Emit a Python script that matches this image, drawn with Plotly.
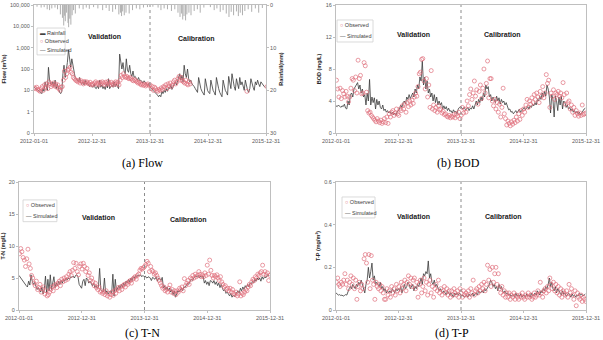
import numpy as np
import pandas as pd
import plotly.graph_objects as go

# ---------------- data ----------------
START = "2012-01-01"
X_TICKS = ["2012-01-01", "2012-12-31", "2013-12-31", "2014-12-31", "2015-12-31"]
SPLIT_DATE = "2013-12-31"
N = None

# weekly simulated flow (m3/s), starting 2012-01-01
flow_sim = [
    14, 13, 12, 11, 10, 9, 8, 7, 12, 9, 25, 15, 10, 120, 30, 20, 18, 25, 15, 30, 12, 20, 10, 8, 7, 9,
    60, 150, 40, 90, 200, 800, 250, 120, 300, 150, 60, 40, 35, 30, 25, 40, 22, 20, 25, 18, 30, 20, 22, 18, 15, 17,
    15, 14, 20, 13, 12, 16, 12, 30, 14, 18, 12, 15, 11, 20, 13, 35, 12, 15, 18, 14, 25, 15, 20, 15, 12, 500,
    150, 100, 200, 80, 60, 300, 90, 70, 150, 60, 45, 80, 40, 45, 35, 30, 40, 28, 30, 25, 22, 28, 22, 20, 18, 20,
    15, 14, 12, 10, 9, 8, 7, 6, 5, 6, 5, 9, 7, 10, 8, 12, 9, 14, 12, 18, 11, 15, 20, 25, 18, 30,
    40, 60, 30, 50, 25, 150, 60, 40, 100, 35, 25, 30, 20, 18, 15, 12, 10, 8, 40, 20, 12, 9, 7, 6, 35, 15,
    10, 8, 7, 30, 15, 10, 8, 6, 40, 20, 12, 8, 6, 5, 30, 15, 10, 8, 6, 45, 20, 12, 60, 25, 15, 10,
    35, 20, 12, 40, 18, 25, 14, 10, 30, 15, 10, 8, 12, 35, 20, 14, 10, 25, 18, 30, 20, 15, 25, 20, 18, 15, 14,
]
# weekly observed flow (offset 3 days)
flow_obs = [
    13, 12, 14, 11, 10, 9, 12, 15, 10, 18, 14, 20, 12, 25, 20, 15, 18, 22, 16, 20, 14, 18, 12, 10, 14, 15,
    30, 80, 40, 60, 90, 100, 120, 70, 60, 40, 35, 30, 28, 25, 30, 22, 28, 24, 20, 26, 22, 25, 22, 20, 24, 18,
    20, 18, 22, 25, 20, 22, 18, 24, 20, 25, 22, 18, 24, 20, 26, 22, 18, 24, 20, 18, 22, 25, 20, 24, 18, 30,
    50, 40, 60, 45, 40, 45, 38, 35, 40, 35, 30, 28, 32, 28, 25, 22, 24, 20, 18, 20, 17, 19, 16, 18, 20, 17,
    18, 12, 15, 10, 14, 12, 10, 9, 11, 10, 13, 11, 15, 14, 18, 12, 20, 16, 22, 15, 18, 25, 30, 20, 25, 35,
    45, 30, 40, 28, 25, 22, 30, 20, 18, 25, 20, N, N, N, N, N, N, N, N, N, N, N, N, N, N, N, N,
    N, N, N, N, N, N, N, N, N, N, N, N, N, N, N, N, N, N, N, N, N, N, N, N, N, N,
    N, N, N, N, N, N, N, N, 9, N, N, N, N, N, N, N, N, N, N, N, N, N, N, N, N, N, 15,
]

rain_dates = [
    "2012-01-20", "2012-02-15", "2012-03-05", "2012-03-24", "2012-04-08", "2012-04-22", "2012-05-12",
    "2012-05-28", "2012-06-15", "2012-06-28", "2012-07-06", "2012-07-12", "2012-07-16", "2012-07-24",
    "2012-08-02", "2012-08-06", "2012-08-13", "2012-08-20", "2012-08-28", "2012-09-06", "2012-09-17",
    "2012-10-12", "2012-11-05", "2012-11-25", "2012-12-14", "2013-01-10", "2013-02-06", "2013-03-08",
    "2013-03-30", "2013-04-18", "2013-05-10", "2013-05-28", "2013-06-18", "2013-06-28", "2013-07-05",
    "2013-07-12", "2013-07-22", "2013-08-02", "2013-08-22", "2013-09-12", "2013-10-06", "2013-10-28",
    "2013-11-20", "2013-12-15", "2014-01-18", "2014-02-20", "2014-03-10", "2014-03-30", "2014-04-20",
    "2014-05-15", "2014-06-05", "2014-06-25", "2014-07-08", "2014-07-18", "2014-07-25", "2014-08-02",
    "2014-08-12", "2014-08-20", "2014-09-02", "2014-09-15", "2014-10-05", "2014-10-25", "2014-11-12",
    "2014-12-05", "2015-01-15", "2015-02-08", "2015-02-25", "2015-03-18", "2015-04-05", "2015-04-25",
    "2015-05-12", "2015-05-26", "2015-06-10", "2015-06-28", "2015-07-10", "2015-07-22", "2015-08-05",
    "2015-08-20", "2015-09-10", "2015-10-02", "2015-10-25", "2015-11-15", "2015-12-08",
]
rain_mm = [
    0.4, 0.6, 0.5, 1.0, 1.2, 0.8, 0.6, 1.0, 2.2, 3.0, 4.8, 2.5, 3.8, 1.8, 4.2, 5.2, 3.2, 4.6, 2.4, 1.2, 2.0,
    0.8, 1.0, 0.6, 0.9, 0.5, 0.8, 1.2, 0.7, 1.4, 1.6, 1.0, 2.2, 1.8, 2.6, 1.5, 2.4, 1.8, 2.0, 1.2, 0.8, 1.0,
    0.6, 0.5, 0.4, 0.6, 1.2, 0.8, 1.0, 1.4, 1.0, 1.8, 2.8, 2.0, 3.4, 2.6, 3.6, 2.2, 1.8, 2.4, 1.4, 1.0, 1.8,
    0.6, 0.5, 1.2, 0.8, 1.6, 1.2, 2.0, 2.8, 1.6, 2.4, 1.5, 2.6, 1.8, 2.4, 1.4, 1.0, 1.6, 0.8, 1.8, 0.7,
]

bod_sim = [
    3.4, 3.3, 3.5, 3.3, 3.2, 3.4, 3.3, 3.6, 3.1, 3.0, 4.0, 3.5, 4.8, 5.0, 4.5, 5.5, 5.8, 6.0, 6.3, 5.5, 6.0, 5.0,
    5.5, 4.5, 4.8, 3.5, 5.0, 4.0, 6.7, 3.5, 4.5, 3.8, 4.4, 3.0, 4.2, 3.5, 4.0, 3.2, 3.0, 3.5, 2.8, 3.0, 2.6, 2.8,
    2.5, 2.7, 2.4, 2.6, 2.3, 2.5, 2.2, 2.6,
    2.8, 3.0, 3.5, 3.2, 3.8, 4.0, 3.6, 4.5, 4.2, 4.8, 4.3, 4.6, 5.0, 4.5, 5.5, 5.0, 6.0, 5.5, 7.0, 6.5, 9.0, 6.0,
    7.0, 5.5, 6.5, 5.0, 5.5, 4.5, 5.0, 4.0, 4.8, 3.8, 4.5, 3.5, 4.0, 3.5, 3.8, 3.0, 3.4, 3.0, 3.3, 2.8, 3.1, 2.7,
    2.8, 2.5, 2.9, 2.6, 2.7, 2.4, 3.0, 3.2,
    3.3, 3.1, 3.0, 3.2, 2.9, 3.0, 3.2, 2.8, 3.1, 3.0, 3.4, 3.0, 3.6, 4.0, 3.5, 4.2, 3.8, 4.5, 4.0, 5.0, 4.5, 6.0,
    5.5, 5.8, 4.5, 4.8, 4.0, 4.5, 4.2, 3.8, 4.6, 4.0, 4.4, 3.6, 4.2, 3.8, 4.0, 3.5, 3.8, 3.2, 2.9, 3.0, 2.6, 2.7,
    2.4, 2.6, 2.8, 2.5, 2.7, 3.0, 2.6, 2.8,
    3.0, 3.2, 2.9, 3.1, 3.3, 3.0, 3.4, 3.2, 3.6, 3.4, 3.8, 3.5, 4.2, 4.0, 4.6, 4.2, 5.0, 4.5, 5.2, 4.6, 6.0, 5.5,
    4.5, 2.5, 4.8, 4.2, 2.0, 4.6, 4.0, 2.8, 4.5, 3.5, 4.6, 3.0, 4.0, 3.8, 3.2, 3.5, 3.0, 3.2, 2.8, 3.0, 2.6, 2.8,
    2.5, 2.7, 2.4, 2.6, 2.3, 2.5, 2.8, 3.0, 3.1,
]
bod_obs = [
    6.6, 5.5, 4.5, 5.6, 4.3, 5.3, 4.9, 4.5, 5.2, 4.6, 3.9, 4.5, 5.6, 6.8, 6.6, 5.3, 7.0, 5.0, 9.1, 6.8, 7.2, 4.9,
    5.0, 8.8, 8.4, 5.1, 2.8, 2.5, 2.6, 2.2, 2.0, 1.8, 1.6, 1.4, 1.8, 1.5, 1.3, 1.6, 1.2, 1.4, 1.8, 1.3, 2.0, 1.2,
    2.4, 2.0, 2.6, 2.8, 2.2, 2.5, 3.0, 2.4,
    2.2, 3.0, 2.8, 3.4, 3.0, 3.6, 2.6, 3.8, 3.3, 4.0, 3.5, 4.1, 3.7, 4.5, 5.0, 4.6, 5.8, 7.4, 7.6, 9.2, 9.3, 6.5,
    5.5, 6.8, 4.5, 6.0, 3.2, 7.8, 3.0, 3.5, 2.8, 3.2, 2.6, 3.4, 2.9, 3.0, 2.5, 2.7, 2.3, 2.4, 2.1, 2.0, 2.2, 1.9,
    2.1, 2.0, 2.3, 1.9, 2.4, 2.1, 2.6, 1.8,
    2.2, 3.2, 2.5, 3.0, 2.6, 4.0, 3.4, 4.8, 5.5, 4.2, 5.0, 6.5, 4.6, 5.4, 3.6, 5.2, 6.0, 4.3, 5.6, 8.0, 5.0, 6.2,
    9.0, 4.4, 6.8, 6.8, 4.0, 3.4, 4.2, 3.0, 3.8, 2.6, 3.6, 2.0, 3.2, 5.6, 2.4, 1.8, 1.0, 1.5, 1.2, 0.9, 1.4, 1.1,
    1.6, 1.3, 2.0, 1.5, 2.4, 1.7, 2.8, 2.2,
    3.0, 2.6, 3.5, 4.2, 3.2, 4.0, 3.6, 4.4, 3.8, 4.8, 4.2, 5.0, 4.5, 3.8, 5.2, 4.6, 5.8, 4.4, 5.0, 7.3, 6.2, 6.6,
    3.2, 5.0, 4.6, 5.4, 4.2, 5.0, 4.8, 5.2, 4.6, 5.0, 4.4, 6.3, 4.8, 3.6, 5.0, 3.8, 4.0, 3.0, 3.5, 2.6, 3.2, 2.2,
    2.8, 2.4, 2.1, 2.5, 2.2, 3.5, 2.3, 2.4, 2.5,
]

tn_sim = [
    5.4, 5.1, 4.8, 4.5, 4.2, 4.0, 3.8, 3.6, 4.5, 3.9, 5.5, 4.5, 4.0, 4.3, 3.6, 3.2, 3.5, 3.0, 2.8, 3.6, 2.5, 3.2,
    5.3, 2.6, 4.8, 3.0, 5.5, 3.2, 4.0, 5.2, 3.5, 4.2, 3.8, 4.5, 4.0, 4.6, 4.2, 4.8, 4.5, 5.0, 4.7, 5.0, 4.8, 5.2,
    5.1, 5.3, 5.0, 5.4, 5.5, 5.2, 4.0, 3.6,
    3.4, 4.5, 4.8, 3.8, 5.0, 4.8, 4.2, 4.5, 4.0, 3.8, 4.2, 3.5, 3.8, 3.4, 3.6, 6.5, 3.2, 3.0, 2.8, 5.0, 2.6, 3.0,
    2.5, 2.8, 3.0, 2.6, 5.6, 2.2, 4.8, 3.0, 3.5, 3.8, 3.4, 4.0, 3.6, 4.2, 3.8, 4.5, 4.2, 4.8, 4.4, 5.0, 4.6, 5.2,
    5.0, 5.4, 5.2, 5.5, 5.3, 5.5, 5.2, 5.4,
    5.2, 5.3, 5.0, 5.1, 5.2, 5.0, 4.6, 5.1, 5.0, 4.8, 5.2, 4.5, 5.0, 4.9, 4.6, 5.1, 3.5, 3.8, 3.2, 3.6, 3.0, 3.4,
    2.8, 3.2, 2.4, 3.0, 2.0, 2.6, 3.0, 2.8, 3.2, 3.4, 3.0, 3.6, 3.5, 3.8, 4.2, 4.0, 4.5, 4.8, 4.6, 5.0, 5.2, 5.3,
    5.2, 5.4, 5.0, 5.3, 5.1, 5.3, 4.2, 4.6,
    4.0, 4.4, 3.8, 4.6, 4.5, 4.2, 4.6, 4.0, 4.4, 3.8, 4.2, 3.5, 4.0, 3.4, 3.0, 3.2, 2.6, 2.8, 2.4, 2.2, 2.6, 2.0,
    2.3, 2.1, 2.5, 2.8, 3.0, 2.6, 3.4, 3.0, 3.6, 3.2, 3.8, 3.5, 4.0, 3.6, 4.2, 4.0, 4.5, 4.2, 4.8, 4.5, 5.0, 4.7,
    5.0, 4.5, 5.2, 4.8, 5.2, 5.0, 5.4, 5.5, 5.3,
]
tn_obs = [
    8.8, 9.6, 9.1, 8.2, 7.8, 6.8, 8.0, 9.5, 7.2, 6.5, 5.4, 5.0, 4.2, 3.8, 4.5, 3.2, 3.5, 4.0, 2.8, 3.3, 3.6, 2.5,
    3.0, 2.2, 2.4, 2.8, 3.2, 3.6, 3.0, 3.8, 4.0, 3.5, 4.2, 4.5, 3.8, 4.8, 4.4, 5.0, 4.6, 5.2, 4.8, 5.6, 6.0, 5.4,
    6.2, 7.4, 6.5, 7.3, 6.0, 5.5, 6.8, 7.2,
    6.4, 7.3, 6.8, 6.0, 6.5, 5.4, 5.8, 4.6, 5.0, 4.4, 3.8, 4.2, 3.5, 3.2, 3.6, 2.8, 3.0, 2.6, 2.8, 2.4, 3.0, 2.2,
    2.6, 2.0, 2.4, 2.8, 2.3, 3.0, 2.6, 3.2, 3.5, 3.0, 3.6, 3.2, 3.8, 4.0, 3.6, 4.2, 4.0, 4.4, 4.6, 4.2, 4.8, 5.0,
    5.2, 4.8, 5.4, 5.6, 6.2, 6.5, 6.4, 6.6,
    6.8, 7.1, 7.6, 7.3, 6.0, 6.8, 6.2, 6.0, 5.6, 5.8, 5.4, 5.0, 4.6, 4.2, 3.8, 3.4, 3.6, 3.0, 3.2, 2.8, 3.4, 3.9,
    2.8, 3.2, 2.6, 3.0, 2.4, 3.0, 2.8, 3.4, 3.2, 3.6, 3.0, 4.9, 3.8, 4.2, 4.6, 4.0, 5.0, 4.8, 5.4, 5.0, 5.6, 5.2,
    5.4, 6.0, 5.6, 5.2, 5.5, 5.2, 5.8, 5.4,
    7.0, 5.6, 7.8, 6.2, 5.4, 5.0, 5.4, 5.2, 5.5, 5.0, 4.6, 5.2, 4.4, 4.0, 3.6, 3.8, 3.2, 3.4, 3.0, 3.4, 2.8, 3.2,
    2.6, 2.4, 2.8, 2.2, 2.5, 4.4, 2.2, 2.6, 2.4, 2.8, 3.2, 3.0, 3.6, 4.0, 3.8, 4.4, 4.8, 4.6, 5.2, 5.0, 5.6, 5.4,
    5.8, 6.0, 7.0, 5.6, 6.0, 5.5, 5.8, 4.6, 5.4,
]

tp_sim = [
    0.08, 0.075, 0.07, 0.072, 0.068, 0.07, 0.065, 0.068, 0.072, 0.07, 0.09, 0.10, 0.11, 0.10, 0.12, 0.11, 0.10,
    0.12, 0.11, 0.13, 0.12, 0.14, 0.12, 0.10, 0.08, 0.12, 0.14, 0.20, 0.15, 0.18, 0.22, 0.14, 0.16, 0.12, 0.13,
    0.12, 0.11, 0.13, 0.10, 0.11, 0.09, 0.10, 0.08, 0.09, 0.08, 0.09, 0.08, 0.10, 0.09, 0.08, 0.10, 0.09,
    0.10, 0.09, 0.11, 0.08, 0.10, 0.12, 0.10, 0.11, 0.13, 0.12, 0.10, 0.11, 0.12, 0.09, 0.11, 0.10, 0.12, 0.11,
    0.13, 0.15, 0.12, 0.17, 0.16, 0.18, 0.17, 0.23, 0.15, 0.17, 0.13, 0.12, 0.14, 0.11, 0.12, 0.10, 0.09, 0.10,
    0.09, 0.08, 0.09, 0.08, 0.07, 0.09, 0.08, 0.07, 0.08, 0.07, 0.06, 0.08, 0.07, 0.08, 0.07, 0.08,
    0.07, 0.065, 0.07, 0.06, 0.065, 0.07, 0.06, 0.075, 0.065, 0.07, 0.08, 0.065, 0.075, 0.08, 0.07, 0.09, 0.08,
    0.085, 0.09, 0.08, 0.10, 0.09, 0.10, 0.11, 0.12, 0.14, 0.13, 0.11, 0.12, 0.10, 0.11, 0.09, 0.12, 0.10, 0.11,
    0.09, 0.08, 0.09, 0.075, 0.08, 0.07, 0.075, 0.065, 0.07, 0.07, 0.06, 0.08, 0.065, 0.07, 0.065, 0.075, 0.06,
    0.065, 0.07, 0.06, 0.075, 0.065, 0.07, 0.06, 0.08, 0.065, 0.07, 0.08, 0.07, 0.09, 0.08, 0.07, 0.09, 0.08,
    0.10, 0.09, 0.11, 0.10, 0.12, 0.15, 0.11, 0.13, 0.10, 0.09, 0.11, 0.08, 0.10, 0.09, 0.08, 0.07, 0.09, 0.075,
    0.08, 0.065, 0.07, 0.08, 0.07, 0.06, 0.075, 0.065, 0.07, 0.06, 0.07, 0.065, 0.08, 0.07, 0.075, 0.065, 0.07,
    0.075,
]
tp_obs = [
    0.13, 0.15, 0.12, 0.11, 0.13, 0.12, 0.14, 0.17, 0.12, 0.14, 0.10, 0.13, 0.16, 0.12, 0.15, 0.10, 0.14, 0.05,
    0.11, 0.13, 0.09, 0.12, 0.10, 0.24, 0.26, 0.22, 0.13, 0.26, 0.10, 0.255, 0.14, 0.12, 0.05, 0.13, 0.11,
    0.10, 0.12, 0.09, 0.11, 0.08, 0.05, 0.05, 0.10, 0.07, 0.09, 0.06, 0.11, 0.08, 0.10, 0.07, 0.12, 0.09,
    0.11, 0.08, 0.13, 0.10, 0.12, 0.14, 0.09, 0.13, 0.16, 0.12, 0.15, 0.11, 0.14, 0.15, 0.10, 0.13, 0.06, 0.12,
    0.14, 0.08, 0.11, 0.15, 0.09, 0.13, 0.07, 0.12, 0.14, 0.08, 0.11, 0.06, 0.10, 0.12, 0.09, 0.14, 0.08, 0.10,
    0.07, 0.09, 0.11, 0.08, 0.10, 0.07, 0.09, 0.06, 0.09, 0.07, 0.10, 0.08, 0.07, 0.09, 0.06, 0.10,
    0.08, 0.06, 0.09, 0.07, 0.08, 0.07, 0.09, 0.06, 0.10, 0.08, 0.14, 0.07, 0.09, 0.10, 0.08, 0.11, 0.09, 0.12,
    0.10, 0.13, 0.09, 0.12, 0.21, 0.14, 0.19, 0.11, 0.20, 0.13, 0.17, 0.20, 0.12, 0.17, 0.10, 0.08, 0.11,
    0.07, 0.09, 0.06, 0.08, 0.06, 0.08, 0.05, 0.07, 0.06, 0.08, 0.05, 0.07, 0.06, 0.05, 0.07, 0.06, 0.08,
    0.06, 0.05, 0.07, 0.06, 0.08, 0.06, 0.07, 0.05, 0.06, 0.08, 0.06, 0.07, 0.09, 0.07, 0.13, 0.08, 0.06, 0.09,
    0.10, 0.08, 0.11, 0.09, 0.15, 0.12, 0.10, 0.13, 0.09, 0.12, 0.08, 0.11, 0.07, 0.10, 0.06, 0.09, 0.08,
    0.07, 0.09, 0.06, 0.12, 0.08, 0.10, 0.07, 0.05, 0.09, 0.02, 0.08, 0.06, 0.05, 0.07, 0.04, 0.06, 0.05, 0.04,
]

# ---------------- styling ----------------
FONT = "Liberation Sans"
SIM_COLOR = "#3a3a3a"
OBS_COLOR = "#e0707c"
AXIS_COLOR = "#bfbfbf"
TICK_FONT = dict(family=FONT, size=5.5, color="#595959")
TITLE_FONT = dict(family=FONT, size=5.5, color="#262626")


def weekly(n, offset=0):
    return pd.Timestamp(START) + pd.to_timedelta(np.arange(n) * 7 + offset, unit="D")


fig = go.Figure()


def add_pair(sim, obs, xa, ya):
    fig.add_trace(go.Scatter(x=weekly(len(sim)), y=sim, mode="lines", name="Simulated",
                             line=dict(color=SIM_COLOR, width=0.8), xaxis=xa, yaxis=ya, showlegend=False))
    fig.add_trace(go.Scatter(x=weekly(len(obs), 3), y=obs, mode="markers", name="Observed",
                             marker=dict(symbol="circle-open", size=4, color=OBS_COLOR, line=dict(width=0.7)),
                             xaxis=xa, yaxis=ya, showlegend=False))


# rainfall hanging bars (vertical segments from 0 on the reversed right axis)
rx, ry = [], []
for d, v in zip(rain_dates, rain_mm):
    rx += [d, d, None]
    ry += [0, v, None]
fig.add_trace(go.Scatter(x=rx, y=ry, mode="lines", name="Rainfall", line=dict(color="#a6a6a6", width=0.9),
                         xaxis="x", yaxis="y2", showlegend=False))

add_pair(flow_sim, flow_obs, "x", "y")
add_pair(bod_sim, bod_obs, "x2", "y3")
add_pair(tn_sim, tn_obs, "x3", "y4")
add_pair(tp_sim, tp_obs, "x4", "y5")

W, H = 603, 340


def xdom(a, b):
    return [a / W, b / W]


def ydom(top, bottom):
    return [1 - bottom / H, 1 - top / H]


def xaxis(dom, anchor):
    return dict(domain=dom, anchor=anchor, type="date", range=[X_TICKS[0], X_TICKS[-1]],
                tickmode="array", tickvals=X_TICKS, ticktext=X_TICKS, tickfont=TICK_FONT,
                showline=True, linecolor=AXIS_COLOR, linewidth=1, mirror=True, showgrid=False,
                zeroline=False, ticks="outside", ticklen=2, tickcolor=AXIS_COLOR, automargin=False)


def yaxis(dom, anchor, title, **kw):
    d = dict(domain=dom, anchor=anchor, showline=True, linecolor=AXIS_COLOR, linewidth=1, mirror=True,
             showgrid=False, zeroline=False, ticks="outside", ticklen=2, tickcolor=AXIS_COLOR,
             tickfont=TICK_FONT, automargin=False,
             title=dict(text="<b>" + title + "</b>", font=TITLE_FONT, standoff=3))
    d.update(kw)
    return d


dA_x, dA_y = xdom(34, 266), ydom(5, 133)
dB_x, dB_y = xdom(336, 586), ydom(5, 133)
dC_x, dC_y = xdom(19, 270), ydom(182, 310)
dD_x, dD_y = xdom(336, 586), ydom(182, 310)

flow_ticks = [0.1, 1, 10, 100, 1000, 10000, 100000]
flow_text = ["0", "1", "10", "100", "1,000", "10,000", "100,000"]

fig.update_layout(
    width=W, height=H, margin=dict(l=0, r=0, t=0, b=0),
    paper_bgcolor="white", plot_bgcolor="white", showlegend=False,
    font=dict(family=FONT),
    xaxis=xaxis(dA_x, "y"),
    yaxis=yaxis(dA_y, "x", "Flow (m³/s)", type="log", range=[-1, 5], tickmode="array",
                tickvals=flow_ticks, ticktext=flow_text),
    yaxis2=dict(overlaying="y", anchor="x", side="right", range=[30, 0], tickmode="array",
                tickvals=[0, 10, 20, 30], tickfont=TICK_FONT, showgrid=False, zeroline=False,
                showline=False, ticks="outside", ticklen=2, tickcolor=AXIS_COLOR, automargin=False,
                title=dict(text="<b>Rainfall(mm)</b>", font=TITLE_FONT, standoff=3)),
    xaxis2=xaxis(dB_x, "y3"),
    yaxis3=yaxis(dB_y, "x2", "BOD (mg/L)", range=[0, 16], tickvals=[0, 4, 8, 12, 16]),
    xaxis3=xaxis(dC_x, "y4"),
    yaxis4=yaxis(dC_y, "x3", "T-N (mg/L)", range=[0, 20], tickvals=[0, 5, 10, 15, 20]),
    xaxis4=xaxis(dD_x, "y5"),
    yaxis5=yaxis(dD_y, "x4", "T-P (mg/m³)", range=[0, 0.6], tickvals=[0, 0.2, 0.4, 0.6]),
)

panels = [
    # xref, yref, validation pos, calibration pos, legend box (x0,x1,ytop,ybot), legend items
    ("x", "y", (0.306, 0.75), (0.70, 0.74), (0.013, 0.134, 0.82, 0.61), ["Rainfall", "Observed", "Simulated"]),
    ("x2", "y3", (0.308, 0.773), (0.664, 0.773), (0.004, 0.148, 0.883, 0.711), ["Observed", "Simulated"]),
    ("x3", "y4", (0.315, 0.72), (0.677, 0.71), (0.016, 0.151, 0.86, 0.69), ["Observed", "Simulated"]),
    ("x4", "y5", (0.308, 0.734), (0.668, 0.727), (0.024, 0.156, 0.883, 0.719), ["Observed", "Simulated"]),
]
symbols = {
    "Rainfall": "<span style='color:#404040'>▬</span>",
    "Observed": "<span style='color:%s'>○</span>" % OBS_COLOR,
    "Simulated": "<span style='color:%s'>—</span>" % SIM_COLOR,
}

shapes, annos = [], []
for xr, yr, vpos, cpos, box, items in panels:
    shapes.append(dict(type="line", xref=xr, yref=yr + " domain", x0=SPLIT_DATE, x1=SPLIT_DATE, y0=0, y1=1,
                       line=dict(color="#8c8c8c", width=1, dash="dot")))
    for text, pos in (("Validation", vpos), ("Calibration", cpos)):
        annos.append(dict(text="<b>%s</b>" % text, xref=xr + " domain", yref=yr + " domain", x=pos[0], y=pos[1],
                          xanchor="center", yanchor="middle", showarrow=False,
                          font=dict(family=FONT, size=7, color="#1a1a1a")))
    x0, x1, yt, yb = box
    shapes.append(dict(type="rect", xref=xr + " domain", yref=yr + " domain", x0=x0, x1=x1, y0=yb, y1=yt,
                       line=dict(color="#d0d0d0", width=0.8), fillcolor="white", layer="below"))
    n = len(items)
    for k, it in enumerate(items):
        yy = yt - (k + 0.5) * (yt - yb) / n
        annos.append(dict(text=symbols[it] + " " + it, xref=xr + " domain", yref=yr + " domain",
                          x=x0 + 0.004, y=yy, xanchor="left", yanchor="middle", showarrow=False,
                          font=dict(family=FONT, size=5.5, color="#404040")))

captions = [("(a) Flow", 142, 163), ("(b) BOD", 458, 163), ("(c) T-N", 142, 333), ("(d) T-P", 452, 333)]
for t, cx, cy in captions:
    annos.append(dict(text=t, xref="paper", yref="paper", x=cx / W, y=1 - cy / H, showarrow=False,
                      xanchor="center", yanchor="middle",
                      font=dict(family="Liberation Serif", size=12, color="black")))

fig.update_layout(shapes=shapes, annotations=annos)
fig.write_html("out.html")
